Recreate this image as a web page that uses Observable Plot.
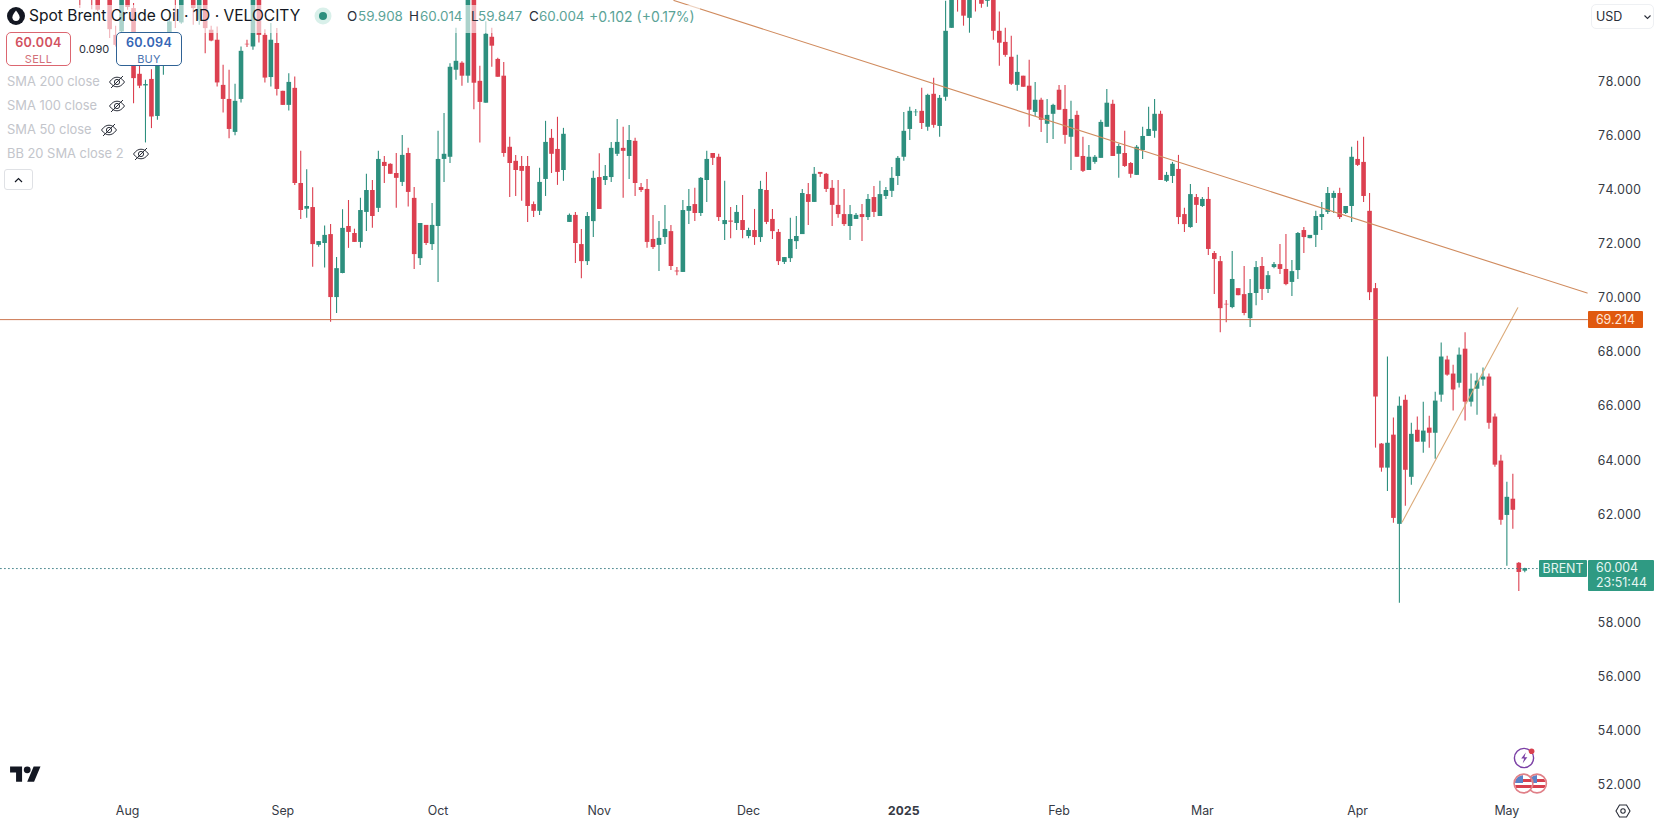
<!DOCTYPE html>
<html><head><meta charset="utf-8">
<script src="https://cdn.jsdelivr.net/npm/d3@7"></script>
<script src="https://cdn.jsdelivr.net/npm/@observablehq/plot@0.6"></script>
<style>
html,body{margin:0;padding:0;background:#fff;overflow:hidden}
#wrap{position:relative;width:1656px;height:822px;font-family:Inter,sans-serif;color:#131722}
#wrap svg.plot{display:block}
.a{position:absolute;white-space:nowrap;line-height:1}
.v{color:#5aa397;font-size:13.4px;top:10px}
.k{color:#2a2e39;font-size:13.4px;top:10px}
.sma{color:#c3c5cb;font-size:12.9px;left:7px}
.box{position:absolute;box-sizing:border-box;border-radius:5px;background:#fff;text-align:center}
.tag{position:absolute;box-sizing:border-box;color:#e6f6f2;font-size:13px;line-height:16px}
</style></head><body><div id="wrap"></div>
<script>
const open=[81.52,81.77,81.65,81.40,81.65,81.28,79.73,79.86,81.52,80.72,
78.29,77.86,78.10,76.73,78.68,79.67,81.77,80.19,81.65,81.28,
80.29,81.28,79.92,79.55,77.88,77.36,76.14,77.36,79.40,79.30,
81.28,79.73,78.17,79.43,77.66,77.14,77.77,74.25,73.30,73.36,
71.96,72.03,72.36,70.03,70.92,72.66,72.40,72.07,73.18,73.99,
73.33,75.03,74.96,74.62,74.29,75.36,73.70,71.47,72.70,71.99,
72.66,75.14,75.22,78.44,78.70,78.22,81.22,78.03,77.22,79.66,
78.84,78.22,75.59,75.07,74.88,74.88,73.47,73.22,74.40,75.92,
75.51,74.73,72.81,73.07,71.99,71.36,72.84,74.47,74.36,74.47,
75.33,75.55,75.25,75.81,74.10,74.03,72.18,71.96,72.25,72.47,
71.01,70.96,73.22,73.47,73.14,74.36,75.36,75.22,72.73,72.86,
72.77,72.88,72.29,72.51,72.25,73.99,72.92,72.44,71.33,71.47,
72.10,72.36,73.84,73.55,74.66,74.59,74.07,73.44,73.10,72.66,
72.92,73.10,72.99,73.73,73.03,73.77,73.96,74.51,75.22,76.25,
76.87,76.92,76.33,77.55,76.36,77.44,79.99,82.14,81.65,80.36,
81.89,81.34,80.99,81.22,79.88,79.47,78.92,77.88,78.22,77.85,
76.88,77.33,76.44,76.81,77.70,76.99,75.96,76.77,75.25,74.73,
75.03,75.18,76.33,77.18,75.33,75.36,74.99,74.55,75.47,75.99,
76.18,76.81,74.33,74.51,74.77,73.10,72.62,73.73,73.40,73.66,
71.66,71.36,69.78,69.66,70.36,70.14,69.25,70.18,71.18,70.33,
71.14,71.25,71.07,70.59,71.03,72.51,72.21,72.33,72.99,73.18,
73.70,73.88,73.14,73.40,75.14,75.03,73.22,70.36,64.61,63.72,
64.94,61.64,66.23,63.38,65.12,64.68,65.20,65.01,66.42,67.72,
67.20,66.86,68.12,66.16,66.64,66.98,67.09,65.61,63.98,61.97,
62.57,60.20,59.908];
const close=[81.15,81.40,81.22,80.66,81.15,79.94,79.36,81.40,80.76,78.13,
77.85,77.91,76.71,79.43,79.43,80.23,81.09,81.28,81.15,80.72,
81.40,79.98,79.52,77.97,77.36,76.25,77.29,79.14,79.38,81.52,
79.73,78.15,79.55,77.73,77.14,77.99,74.25,73.25,73.40,71.99,
72.10,72.33,70.03,71.10,72.59,72.44,72.07,73.25,73.99,73.03,
75.14,74.88,74.59,74.44,75.29,73.92,71.62,72.77,72.03,72.70,
75.14,75.33,78.55,78.77,78.22,81.28,77.96,77.25,79.77,79.33,
78.18,75.36,74.99,74.73,74.70,73.40,73.22,74.29,75.77,75.33,
74.66,76.07,73.07,72.03,71.36,73.03,74.44,73.29,74.51,75.55,
75.77,75.44,75.84,74.25,73.99,72.07,71.88,72.22,72.55,71.18,
70.98,73.25,73.40,73.14,74.44,75.14,75.18,72.99,72.88,72.82,
73.18,72.51,72.51,72.25,74.03,72.81,72.47,71.36,71.51,72.18,
72.29,73.88,73.55,74.59,74.59,74.03,73.44,73.10,72.73,73.10,
73.07,72.99,73.66,73.18,73.84,73.99,74.44,75.18,76.18,76.92,
76.89,76.47,77.51,76.40,77.40,79.88,81.40,81.28,80.44,81.77,
81.28,80.88,81.22,79.88,79.44,78.99,77.92,78.36,77.81,76.96,
77.33,76.59,76.77,77.14,76.96,76.03,76.62,75.22,74.70,75.22,
75.22,76.51,77.22,75.25,75.62,74.88,74.59,75.59,75.99,76.25,
76.81,74.36,74.55,74.96,72.99,72.73,73.84,73.44,73.66,71.81,
71.44,69.62,69.76,70.70,70.10,69.44,70.18,71.14,70.33,70.84,
71.25,71.07,70.51,70.99,72.40,72.25,72.33,73.03,73.10,73.88,
73.88,72.99,73.40,75.22,74.92,73.77,70.21,66.35,63.72,64.64,
61.86,66.01,63.64,64.97,64.68,65.09,65.01,66.20,67.83,67.16,
66.61,67.90,66.16,66.64,66.94,67.09,65.38,63.83,61.79,62.64,
62.16,59.86,60.004];
const high=[81.77,81.89,81.89,81.65,81.89,81.52,80.07,81.65,81.77,80.91,
78.68,78.07,78.46,79.80,79.80,80.66,81.89,81.52,81.89,81.52,
81.65,81.52,80.07,80.04,78.62,78.44,77.92,79.30,79.55,81.77,
81.52,79.94,80.17,79.98,77.66,78.31,78.19,75.44,74.76,74.09,
72.10,72.68,72.73,71.51,73.28,73.62,72.56,73.70,74.59,74.36,
75.44,75.25,74.98,75.36,76.03,75.55,74.10,72.77,72.70,73.51,
76.18,76.84,78.68,79.99,78.75,81.59,81.40,78.59,80.23,79.99,
78.88,78.73,75.96,75.29,75.25,75.25,73.57,74.81,76.55,76.25,
76.70,76.29,73.12,73.18,72.55,73.18,74.70,75.35,74.92,75.77,
76.62,76.33,76.40,75.92,74.25,74.40,73.07,72.84,73.44,72.70,
71.14,73.62,74.03,74.07,74.47,75.44,75.36,75.33,74.33,73.36,
73.44,73.81,72.59,73.29,74.33,74.66,73.29,72.55,71.51,72.96,
73.03,74.03,74.25,74.84,74.66,74.62,74.36,74.36,74.03,73.44,
73.14,73.47,73.84,74.14,74.33,74.10,74.84,75.25,76.88,77.07,
76.99,77.77,77.55,78.14,77.51,80.99,82.14,82.39,81.89,81.89,
82.14,81.52,81.40,81.40,80.59,79.99,79.70,78.99,78.22,78.81,
77.99,77.40,77.36,77.18,77.88,77.88,77.29,76.92,75.96,75.66,
75.29,76.59,77.73,77.33,75.70,76.18,75.03,75.66,76.33,77.07,
77.36,76.92,74.66,75.03,75.29,73.33,74.21,73.84,73.73,74.10,
71.73,71.55,69.92,71.73,70.36,71.18,70.70,71.36,71.51,70.99,
71.33,71.99,72.36,71.40,72.44,72.62,72.33,73.22,73.55,74.10,
73.96,74.07,73.40,75.59,75.81,75.96,73.88,70.55,64.63,67.83,
65.57,66.35,66.42,65.38,65.61,66.16,65.64,66.53,68.35,67.86,
67.53,68.16,68.73,67.20,67.23,67.42,67.20,65.72,64.20,63.20,
63.49,60.23,60.014];
const low=[80.72,81.15,80.68,80.60,81.09,79.61,79.30,79.80,80.66,77.20,
77.76,75.75,76.28,76.59,78.25,79.43,79.98,80.14,81.07,80.10,
80.10,79.05,79.49,77.82,76.86,75.91,76.02,77.23,79.28,79.18,
79.45,77.97,77.82,77.49,77.14,76.93,74.18,72.92,72.96,71.15,
71.89,71.12,69.12,69.44,70.91,71.85,72.07,71.85,72.47,72.59,
73.18,74.25,74.59,73.33,74.14,73.38,71.07,71.22,71.96,71.77,
70.59,74.29,74.99,78.07,77.85,77.96,76.98,75.75,77.22,78.55,
78.18,75.22,73.73,73.77,73.59,72.81,72.99,73.07,73.77,74.62,
74.18,74.33,72.81,71.29,70.73,71.22,72.25,73.29,74.18,74.29,
75.25,73.70,74.40,73.77,73.92,71.85,71.81,70.99,71.99,71.03,
70.84,70.96,72.73,72.84,73.03,73.55,74.92,72.84,72.14,72.21,
72.51,72.21,72.21,71.96,72.07,72.73,72.18,71.22,71.25,71.33,
71.81,72.36,72.70,73.55,74.47,73.92,72.66,72.96,72.66,72.14,
72.92,72.10,72.88,72.99,73.03,73.66,73.73,74.18,75.07,75.84,
76.73,76.25,76.18,76.29,75.96,77.29,79.99,80.59,80.07,79.81,
80.59,80.73,80.77,79.55,78.59,78.92,77.88,77.66,77.81,76.33,
76.73,76.14,75.73,75.88,76.96,75.70,74.73,75.22,74.66,74.73,
74.96,75.18,76.33,75.25,74.44,74.84,74.44,74.55,75.14,75.99,
75.92,74.36,74.29,74.25,72.73,72.44,72.59,72.77,73.36,71.59,
70.14,68.73,69.10,69.62,70.10,69.36,68.92,69.73,69.92,70.18,
71.10,70.88,70.47,70.07,70.70,71.66,72.21,71.88,72.51,73.10,
73.14,72.92,73.10,72.81,74.88,73.55,69.92,64.46,63.57,62.86,
61.68,58.72,62.31,63.09,64.68,64.27,64.46,64.05,66.16,67.12,
65.83,66.68,65.46,65.98,65.68,66.75,65.16,63.75,61.61,60.09,
61.46,59.16,59.847];

const monthBars=[8,34,60,87,112,164,188,214,239];
const monthLabels=["Aug","Sep","Oct","Nov","Dec","Feb","Mar","Apr","May"];
const yearBars=[138];
const yearLabels=["2025"];
const priceTicks=[52,54,56,58,60,62,64,66,68,70,72,74,76,78];
const levelPrice=69.214;
const lastPrice=60.004;
const trendDownBars=[99.5,252.45], trendDownPrices=[81.02,70.20];
const trendUpBars=[221.47,240.83], trendUpPrices=[61.73,69.65];
const levelBars=[-13.3,252.5];
const lastBars=[-13.3,244.5];

const GREEN="#2d8f7e", RED="#dc4050";
const bars=open.map((o,i)=>({i,o,h:high[i],l:low[i],c:close[i]}));
const col=d=>d.c>=d.o?GREEN:RED;
const toLine=(xs,ys)=>xs.map((x,k)=>({x,y:ys[k]}));

const chart=Plot.plot({
  width:1656,height:822,
  marginLeft:0,marginTop:0,marginRight:68,marginBottom:20,
  style:{fontFamily:"Inter, sans-serif",fontSize:"12.4px",color:"#363a45",background:"#fff",overflow:"hidden"},
  x:{domain:[0,242],range:[79.3,79.3+242*5.971]},
  y:{domain:[50.61,81.02],range:[822,0]},
  marks:[
    Plot.ruleX(bars,{x:"i",y1:"l",y2:"h",stroke:col,strokeWidth:1.1}),
    Plot.ruleX(bars,{x:"i",y1:"o",y2:"c",stroke:col,strokeWidth:4.6}),
    Plot.line(toLine(trendDownBars,trendDownPrices),{x:"x",y:"y",stroke:"#d08b5e",strokeWidth:1.1}),
    Plot.line(toLine(trendUpBars,trendUpPrices),{x:"x",y:"y",stroke:"#dcab7a",strokeWidth:1.1}),
    Plot.line(toLine(levelBars,[levelPrice,levelPrice]),{x:"x",y:"y",stroke:"#cc7650",strokeWidth:1}),
    Plot.line(toLine(lastBars,[lastPrice,lastPrice]),{x:"x",y:"y",stroke:"#3c7d84",strokeWidth:0.9,strokeDasharray:"1,3"}),
    Plot.axisY({anchor:"right",ticks:priceTicks,tickFormat:d3.format(".3f"),tickSize:0,tickPadding:9,label:null}),
    Plot.axisX({anchor:"bottom",ticks:monthBars,tickFormat:d=>monthLabels[monthBars.indexOf(d)],tickSize:0,tickPadding:4,label:null}),
    Plot.axisX({anchor:"bottom",ticks:yearBars,tickFormat:d=>yearLabels[yearBars.indexOf(d)],tickSize:0,tickPadding:4,label:null,fontWeight:"bold"})
  ]
});
const wrap=document.getElementById("wrap");
wrap.appendChild(chart);

const yS=chart.scale("y");
const yLevel=yS.apply(levelPrice), yLast=yS.apply(lastPrice);

const eye=(x,y)=>`<svg class="a" style="left:${x-9}px;top:${y-8}px" width="18" height="16" viewBox="0 0 18 16" fill="none" stroke="#2a2e39" stroke-width="1"><path d="M1.5 8C4 4.5 6.5 3.2 9 3.2S14 4.5 16.5 8C14 11.5 11.5 12.8 9 12.8S4 11.5 1.5 8Z"/><circle cx="9" cy="8" r="2.6"/><path d="M3 14L15 2"/></svg>`;
const span=(cls,x,t)=>`<span class="a ${cls}" style="left:${x}px">${t}</span>`;

const ov=document.createElement("div");
ov.innerHTML=`
<div class="a" style="left:0;top:5px;width:700px;height:28px;background:rgba(255,255,255,.6)"></div>
<div class="a" style="left:0;top:33px;width:182px;height:33px;background:rgba(255,255,255,.6)"></div>
<svg class="a" style="left:7px;top:7px" width="18" height="18" viewBox="0 0 18 18"><circle cx="9" cy="9" r="9" fill="#131722"/><path d="M9 3.4C11.2 6.2 12.6 8 12.6 10.3A3.6 3.6 0 0 1 5.4 10.3C5.4 8 6.8 6.2 9 3.4Z" fill="#fff"/></svg>
<span class="a" style="left:29px;top:8px;font-size:15.55px;color:#131722">Spot Brent Crude Oil · 1D · VELOCITY</span>
<svg class="a" style="left:314px;top:7px" width="18" height="18"><circle cx="9" cy="9" r="8.5" fill="#d9f0ea"/><circle cx="9" cy="9" r="4" fill="#2d8f7e"/></svg>
${span("k",347,"O")}${span("v",358,"59.908")}
${span("k",409,"H")}${span("v",420,"60.014")}
${span("k",471,"L")}${span("v",478,"59.847")}
${span("k",529,"C")}${span("v",539,"60.004")}
<span class="a v" style="left:589px;font-size:14px;top:9.5px">+0.102 (+0.17%)</span>
<div class="box" style="left:6px;top:32px;width:65px;height:34px;border:1px solid #dc6670">
 <div style="font-size:12.6px;font-weight:600;letter-spacing:.3px;color:#d2525f;line-height:14px;margin-top:3px">60.004</div>
 <div style="font-size:11px;letter-spacing:.3px;color:#d2707a;line-height:12px;margin-top:3px">SELL</div></div>
<span class="a" style="left:79px;top:44px;font-size:11px;color:#2a2e39">0.090</span>
<div class="box" style="left:116px;top:32px;width:66px;height:34px;border:1px solid #2f6295">
 <div style="font-size:12.6px;font-weight:600;letter-spacing:.3px;color:#3566b5;line-height:14px;margin-top:3px">60.094</div>
 <div style="font-size:11px;letter-spacing:.3px;color:#4a74b0;line-height:12px;margin-top:3px">BUY</div></div>
<span class="a sma" style="top:76px">SMA 200 close</span>${eye(117,82)}
<span class="a sma" style="top:100px">SMA 100 close</span>${eye(117,106)}
<span class="a sma" style="top:124px">SMA 50 close</span>${eye(109,130)}
<span class="a sma" style="top:148px">BB 20 SMA close 2</span>${eye(141,154)}
<div class="box" style="left:4px;top:169px;width:29px;height:21px;border:1px solid #dfe1e5;border-radius:3px"><svg width="27" height="19" style="display:block"><path d="M10 12L13.5 8.5L17 12" fill="none" stroke="#131722" stroke-width="1.2"/></svg></div>
<div class="box" style="left:1591px;top:4px;width:63px;height:25px;border:1px solid #eef0f3;text-align:left"><span class="a" style="left:4px;top:6px;font-size:12.5px;color:#2a2e39">USD</span><svg class="a" style="left:51px;top:9px" width="9" height="7"><path d="M1.5 1.5L4.5 4.5L7.5 1.5" fill="none" stroke="#2a2e39" stroke-width="1.1"/></svg></div>
<div class="tag" style="left:1588px;top:${yLevel-8.5}px;width:55px;height:17px;background:#e0590f;border-radius:1px;color:#ffe6d6;text-align:center;line-height:17px;font-size:12.4px">${d3.format(".3f")(levelPrice)}</div>
<div class="tag" style="left:1539px;top:${yLast-8}px;width:48px;height:17px;background:#2f9a83;border-radius:1px;text-align:center;line-height:17px;font-size:12.4px">BRENT</div>
<div class="tag" style="left:1588px;top:${yLast-8}px;width:66px;height:31px;background:#2f9a83;border-radius:1px;padding-left:8px;padding-top:1px;line-height:14.5px;font-size:12.4px">${d3.format(".3f")(lastPrice)}<br>23:51:44</div>
<svg class="a" style="left:10px;top:763px" width="31" height="24" viewBox="0 0 36 28"><path fill="#131722" d="M14 22H7V11H0V4h14v18zM28 22h-8l7.5-18h8L28 22z"/><circle cx="20" cy="8" r="4" fill="#131722"/></svg>
<svg class="a" style="left:1510px;top:744px" width="30" height="28" viewBox="0 0 30 28" fill="none"><circle cx="14" cy="14" r="9.6" stroke="#7a3fa5" stroke-width="1.4"/><path d="M15.8 8.4L11.2 14.6H14.2L12.6 19.4L17.4 13.2H14.4Z" fill="#7a3fa5"/><circle cx="21.6" cy="7.2" r="2.8" fill="#d8404f"/></svg>
<svg class="a" style="left:1510px;top:771px" width="40" height="25" viewBox="0 0 40 25"><defs><clipPath id="fa"><circle cx="13.5" cy="12.5" r="8.6"/></clipPath><clipPath id="fb"><circle cx="27" cy="12.5" r="8.6"/></clipPath></defs>
 <g clip-path="url(#fb)"><rect x="17" y="3" width="20" height="19" fill="#fff"/><rect x="17" y="8" width="20" height="3" fill="#d8404f"/><rect x="17" y="14" width="20" height="3" fill="#d8404f"/><rect x="17" y="3" width="10" height="9" fill="#5b83c9"/></g>
 <circle cx="27" cy="12.5" r="9.4" fill="none" stroke="#e08088" stroke-width="1.6"/>
 <g clip-path="url(#fa)"><rect x="3" y="3" width="20" height="19" fill="#fff"/><rect x="3" y="8" width="20" height="3" fill="#d8404f"/><rect x="3" y="14" width="20" height="3" fill="#d8404f"/><rect x="3" y="3" width="10" height="9" fill="#5b83c9"/></g>
 <circle cx="13.5" cy="12.5" r="9.4" fill="none" stroke="#e08088" stroke-width="1.6"/></svg>
<svg class="a" style="left:1615px;top:803px" width="16" height="16" viewBox="0 0 16 16" fill="none" stroke="#2a2e39" stroke-width="1.1"><path d="M4.5 2H11.5L15 8L11.5 14H4.5L1 8Z"/><circle cx="8" cy="8" r="2.2"/></svg>
`;
wrap.appendChild(ov);
</script></body></html>
